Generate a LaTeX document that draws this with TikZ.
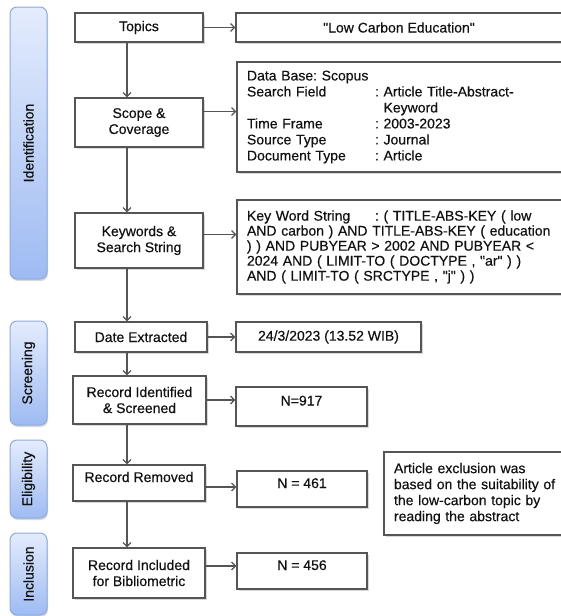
\documentclass[tikz,border=0pt]{standalone}
\usepackage{fontspec}
\setmainfont{Liberation Sans}[FakeBold=0.4]
\usetikzlibrary{arrows.meta,shadows}
\definecolor{boxline}{HTML}{555555}
\definecolor{ink}{HTML}{111111}
\definecolor{bartop}{HTML}{E4ECFD}
\definecolor{barbot}{HTML}{9EBBF2}
\definecolor{barline}{HTML}{8DABDC}
\frenchspacing
\begin{document}
\begin{tikzpicture}[x=1pt,y=-1pt,
	every node/.style={font=\fontsize{14}{16}\selectfont, text=ink},
	box/.style={draw=boxline, line width=1.2pt, fill=white, align=center, inner sep=0pt,
		drop shadow={shadow xshift=1.5pt, shadow yshift=-1.5pt, opacity=0.3}},
	info/.style={box, align=left, inner xsep=10pt},
	upper/.style={text height=10pt, text depth=12pt},
	phase/.style={draw=barline, line width=1pt, rounded corners=7pt,
		top color=bartop, bottom color=barbot, minimum width=37pt,
		drop shadow={shadow xshift=1pt, shadow yshift=-2pt, opacity=0.3}},
	arr/.style={draw=boxline, line width=1.2pt, -{Straight Barb[length=4pt,width=8pt]}}]
	\useasboundingbox (0,0) rectangle (561,616);
	\clip (0,0) rectangle (561,616);
	% phases
	\node[phase, minimum height=272pt, label={[rotate=90]center:Identification}] (identification) at (28.5,143) {};
	\node[phase, minimum height=104pt, label={[rotate=90]center:Screening}] (screening) at (28.5,373) {};
	\node[phase, minimum height=78pt, label={[rotate=90]center:Eligibility}] (eligibility) at (28.5,479) {};
	\node[phase, minimum height=82pt, label={[rotate=90]center:Inclusion}] (inclusion) at (28.5,574) {};
	% steps
	\node[box, minimum width=128pt, minimum height=29pt] (topics) at (139,27.5) {Topics};
	\node[box, minimum width=128pt, minimum height=49pt] (scope) at (139,122.5) {Scope \&\\Coverage};
	\node[box, minimum width=128pt, minimum height=55pt] (keywords) at (139,240.5) {Keywords \&\\Search String};
	\node[box, minimum width=132pt, minimum height=30pt] (extracted) at (141,337) {Date Extracted};
	\node[box, minimum width=133pt, minimum height=48pt] (screened) at (139.5,400) {Record Identified\\\& Screened};
	\node[box, upper, minimum width=132pt, minimum height=36pt] (removed) at (139,483) {Record Removed};
	\node[box, minimum width=132pt, minimum height=50pt] (included) at (139,573) {Record Included\\for Bibliometric};
	% details
	\node[box, minimum width=326pt, minimum height=29pt] (theme) at (399,27.5) {\textquotedbl Low Carbon Education\textquotedbl};
	\node[info, text width=305pt, minimum height=110pt] (database) at (399.5,117) {Data Base: Scopus\\
		\makebox[128pt][l]{Search Field}: Article Title-Abstract-\\
		\hspace*{128pt}\phantom{: }Keyword\\
		\makebox[128pt][l]{Time Frame}: 2003-2023\\
		\makebox[128pt][l]{Source Type}: Journal\\
		\makebox[128pt][l]{Document Type}: Article};
	\node[info, text width=305pt, minimum height=94pt, font=\fontsize{14}{15}\selectfont] (searchstr) at (399.5,247) {\makebox[128pt][l]{Key Word String}: ( TITLE-ABS-KEY ( low\\
		\makebox[313pt][s]{AND carbon ) AND TITLE-ABS-KEY ( education}\\
		\makebox[308pt][s]{) ) AND PUBYEAR > 2002 AND PUBYEAR <}\\
		2024 AND ( LIMIT-TO ( DOCTYPE , \textquotedbl ar\textquotedbl\ ) )\\
		AND ( LIMIT-TO ( SRCTYPE , \textquotedbl j\textquotedbl\ ) )};
	\node[box, minimum width=185pt, minimum height=30pt] (datetime) at (328.5,337) {24/3/2023 (13.52 WIB)};
	\node[box, upper, minimum width=131pt, minimum height=39pt] (nscreened) at (301.5,406.5) {N=917};
	\node[box, upper, minimum width=130pt, minimum height=36pt] (nremoved) at (302,489) {N = 461};
	\node[info, text width=190pt, minimum height=83pt] (reason) at (489,493.5) {Article exclusion was\\based on the suitability of\\the low-carbon topic by\\reading the abstract};
	\node[box, upper, minimum width=130pt, minimum height=36pt] (nincluded) at (302,571) {N = 456};
	% flow
	\coordinate (spine) at (127,0);
	\draw[arr] (topics.south -| spine) -- (scope.north -| spine);
	\draw[arr] (scope.south -| spine) -- (keywords.north -| spine);
	\draw[arr] (keywords.south -| spine) -- (extracted.north -| spine);
	\draw[arr] (extracted.south -| spine) -- (screened.north -| spine);
	\draw[arr] (screened.south -| spine) -- (removed.north -| spine);
	\draw[arr] (removed.south -| spine) -- (included.north -| spine);
	\draw[arr] (topics.east) -- (topics.east -| theme.west);
	\draw[arr] ([yshift=11pt]scope.east) -- ([yshift=11pt]scope.east -| database.west);
	\draw[arr] ([yshift=6pt]keywords.east) -- ([yshift=6pt]keywords.east -| searchstr.west);
	\draw[arr] (extracted.east) -- (extracted.east -| datetime.west);
	\draw[arr] (screened.east) -- (screened.east -| nscreened.west);
	\draw[arr] ([yshift=-4pt]removed.east) -- ([yshift=-4pt]removed.east -| nremoved.west);
	\draw[arr] ([yshift=7pt]included.east) -- ([yshift=7pt]included.east -| nincluded.west);
\end{tikzpicture}
\end{document}
